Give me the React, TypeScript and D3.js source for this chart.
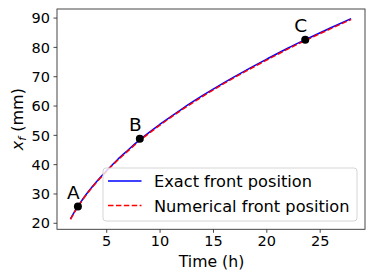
import React from "react";
import * as d3 from "d3";

const timeH = [1.6, 2, 2.5, 3, 4, 5, 6, 7, 8, 10, 12, 14, 16, 18, 20, 22, 24, 26, 27.9];
const exactFront = [21.5, 24.1, 26.9, 29.5, 34.0, 38.0, 41.7, 45.0, 48.2, 53.8, 58.9, 63.6, 68.0, 72.1, 76.0, 79.8, 83.3, 86.7, 89.8];
const numericalFront = [21.3, 23.9, 26.7, 29.3, 33.8, 37.8, 41.4, 44.7, 47.9, 53.5, 58.6, 63.3, 67.7, 71.8, 75.7, 79.5, 83.0, 86.4, 89.5];
const pointLabels = ["A", "B", "C"];
const pointTimes = [2.3, 8.1, 23.6];
const pointValues = [25.7, 48.8, 82.6];
const xTicks = [5, 10, 15, 20, 25];
const yTicks = [20, 30, 40, 50, 60, 70, 80, 90];
const legendLabels = ["Exact front position", "Numerical front position"];

const W = 374;
const H = 280;
const left = 57;
const right = 365;
const top = 9;
const bottom = 229.3;
const FONT = "DejaVu Sans, sans-serif";

export default function App() {
  const x = d3.scaleLinear().domain([0.34, 29.2]).range([left, right]);
  const y = d3.scaleLinear().domain([17.95, 93.1]).range([bottom, top]);
  const line = d3
    .line<number>()
    .x((_, i) => x(timeH[i]))
    .curve(d3.curveMonotoneX);
  const exactPath = line.y((d) => y(d))(exactFront) || "";
  const numPath = line.y((d) => y(d))(numericalFront) || "";

  return (
    <svg width={W} height={H} style={{ position: "absolute", left: 0, top: 0 }} fontFamily={FONT}>
      <rect x={0} y={0} width={W} height={H} fill="white" />
      <path d={exactPath} fill="none" stroke="#0000ff" strokeWidth={1.5} />
      <path d={numPath} fill="none" stroke="#ff0000" strokeWidth={1.5} strokeDasharray="5.5,2.4" />
      {pointLabels.map((lab, i) => (
        <g key={lab}>
          <circle cx={x(pointTimes[i])} cy={y(pointValues[i])} r={4} fill="black" />
          <text x={x(pointTimes[i]) - 4.5} y={y(pointValues[i]) - 8} fontSize={18.5} textAnchor="middle">
            {lab}
          </text>
        </g>
      ))}
      {/* axes frame */}
      <rect x={left} y={top} width={right - left} height={bottom - top} fill="none" stroke="#333" strokeWidth={0.9} />
      {xTicks.map((t) => (
        <g key={t}>
          <line x1={x(t)} x2={x(t)} y1={bottom} y2={bottom + 3.5} stroke="#333" strokeWidth={0.9} />
          <text x={x(t)} y={bottom + 17} fontSize={14.5} textAnchor="middle">
            {t}
          </text>
        </g>
      ))}
      {yTicks.map((t) => (
        <g key={t}>
          <line x1={left - 3.5} x2={left} y1={y(t)} y2={y(t)} stroke="#333" strokeWidth={0.9} />
          <text x={left - 7} y={y(t) + 5.2} fontSize={14.5} textAnchor="end">
            {t}
          </text>
        </g>
      ))}
      <text x={(left + right) / 2 + 0.5} y={267} fontSize={15.7} textAnchor="middle">
        Time (h)
      </text>
      <text transform={`translate(23,${(top + bottom) / 2}) rotate(-90)`} fontSize={16} textAnchor="middle">
        <tspan fontStyle="italic">x</tspan>
        <tspan fontStyle="italic" fontSize={11} dy={3}>f</tspan>
        <tspan dy={-3}> (mm)</tspan>
      </text>
      {/* legend */}
      <rect x={103} y={168} width={254} height={53} rx={3} fill="white" fillOpacity={0.8} stroke="#d0d0d0" strokeWidth={0.9} />
      <line x1={108} x2={141.5} y1={181} y2={181} stroke="#0000ff" strokeWidth={1.5} />
      <line x1={108} x2={141.5} y1={205.5} y2={205.5} stroke="#ff0000" strokeWidth={1.5} strokeDasharray="5.5,2.4" />
      <text x={154} y={187} fontSize={16.2}>
        {legendLabels[0]}
      </text>
      <text x={154} y={211.5} fontSize={16.2}>
        {legendLabels[1]}
      </text>
    </svg>
  );
}
